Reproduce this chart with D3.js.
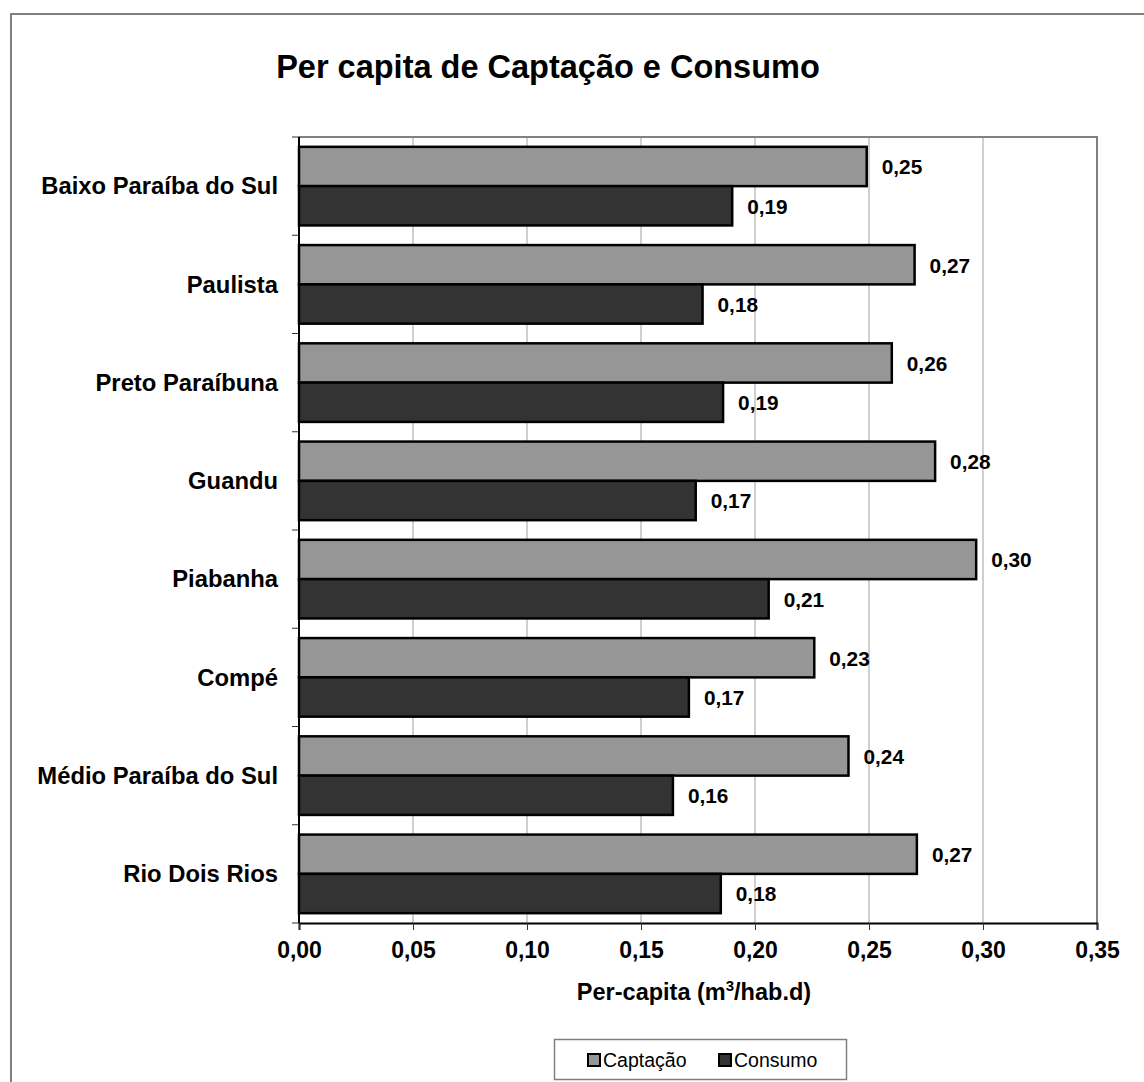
<!DOCTYPE html>
<html lang="pt">
    <head>
        <meta charset="utf-8">
        <title> Per capita de Captação e Consumo </title>
        <script src="https://d3js.org/d3.v7.min.js"></script>
        <style type="text/css">
            body { margin: 0; background: #fff; overflow: hidden; }
            svg { display: block; }
            text { font-family: "Liberation Sans", Arial, sans-serif; }
        </style>
    </head>
    <body>
        <script type="text/javascript">

// size of the picture
var w = 1144;
var h = 1082;

var margin = {top: 137, right: 47, bottom: 159, left: 299};
var innerWidth = w - margin.left - margin.right;
var innerHeight = h - margin.top - margin.bottom;

// data
var regions = ["Baixo Paraíba do Sul", "Paulista", "Preto Paraíbuna", "Guandu",
               "Piabanha", "Compé", "Médio Paraíba do Sul", "Rio Dois Rios"];
var captacao = [0.249, 0.270, 0.260, 0.279, 0.297, 0.226, 0.241, 0.271];
var consumo  = [0.190, 0.177, 0.186, 0.174, 0.206, 0.171, 0.164, 0.185];
var xTicks = [0, 0.05, 0.10, 0.15, 0.20, 0.25, 0.30, 0.35];
var seriesNames = ["Captação", "Consumo"];
var seriesColors = ["#969696", "#333333"];

var fmt = function(v, n){ return v.toFixed(n).replace(".", ","); };

// scales
var xScale = d3.scaleLinear()
               .domain([0, 0.35])
               .range([0, innerWidth]);

var yScale = d3.scaleBand()
               .domain(regions)
               .range([0, innerHeight])
               .paddingInner(0.2)
               .paddingOuter(0.1);

var subScale = d3.scaleBand()
                 .domain(seriesNames)
                 .range([0, yScale.bandwidth()]);

var svg = d3.select("body")
            .append("svg")
            .attr("width", w)
            .attr("height", h);

// outer frame: only left and top edges are visible in the picture
svg.append("path")
   .attr("d", `M11,${h}V14H${w}`)
   .attr("fill", "none")
   .attr("stroke", "#808080")
   .attr("stroke-width", 2);

// title
svg.append("text")
   .attr("x", 548)
   .attr("y", 78)
   .attr("text-anchor", "middle")
   .attr("font-size", "32.5px")
   .attr("font-weight", "bold")
   .text("Per capita de Captação e Consumo");

var g = svg.append("g")
           .attr("transform", `translate(${margin.left},${margin.top})`);

// vertical grid lines
g.selectAll(".grid")
 .data(xTicks.slice(1))
 .enter()
 .append("line")
 .attr("class", "grid")
 .attr("x1", function(d){ return xScale(d); })
 .attr("x2", function(d){ return xScale(d); })
 .attr("y1", 0)
 .attr("y2", innerHeight)
 .attr("stroke", "#a0a0a0")
 .attr("stroke-width", 1);

// plot area frame top and right
g.append("path")
 .attr("d", `M0,0H${innerWidth}V${innerHeight}`)
 .attr("fill", "none")
 .attr("stroke", "#808080")
 .attr("stroke-width", 2);

// x axis
var xAxis = d3.axisBottom(xScale)
              .tickValues(xTicks)
              .tickSize(7)
              .tickFormat(function(d){ return fmt(d, 2); });

var gx = g.append("g")
          .attr("transform", `translate(0,${innerHeight})`)
          .call(xAxis);
gx.select(".domain").attr("stroke", "#000").attr("stroke-width", 2);
gx.selectAll(".tick line").attr("stroke", "#333");
gx.selectAll(".tick text")
  .attr("y", 19)
  .attr("font-size", "23px")
  .attr("font-weight", "bold")
  .attr("fill", "#000");

// y axis, ticks sit between the categories
g.selectAll(".ytick")
 .data(d3.range(regions.length + 1))
 .enter()
 .append("line")
 .attr("class", "ytick")
 .attr("x1", -7).attr("x2", 0)
 .attr("y1", function(i){ return i * yScale.step(); })
 .attr("y2", function(i){ return i * yScale.step(); })
 .attr("stroke", "#333");

g.selectAll(".ylabel")
 .data(regions)
 .enter()
 .append("text")
 .attr("class", "ylabel")
 .attr("x", -21)
 .attr("y", function(d){ return yScale(d) + yScale.bandwidth() / 2; })
 .attr("dy", "0.35em")
 .attr("text-anchor", "end")
 .attr("font-size", "23.8px")
 .attr("font-weight", "bold")
 .text(function(d){ return d; });

// bars
var rows = regions.map(function(r, i){
    return [{region: r, name: seriesNames[0], value: captacao[i]},
            {region: r, name: seriesNames[1], value: consumo[i]}];
});

var groups = g.selectAll(".grp")
              .data(rows)
              .enter()
              .append("g")
              .attr("class", "grp")
              .attr("transform", function(d){ return `translate(0,${yScale(d[0].region)})`; });

groups.selectAll("rect")
      .data(function(d){ return d; })
      .enter()
      .append("rect")
      .attr("x", 0)
      .attr("y", function(d){ return subScale(d.name); })
      .attr("width", function(d){ return xScale(d.value); })
      .attr("height", subScale.bandwidth())
      .attr("fill", function(d, i){ return seriesColors[i]; })
      .attr("stroke", "#000")
      .attr("stroke-width", 2.5);

groups.selectAll(".val")
      .data(function(d){ return d; })
      .enter()
      .append("text")
      .attr("class", "val")
      .attr("x", function(d){ return xScale(d.value) + 15; })
      .attr("y", function(d){ return subScale(d.name) + subScale.bandwidth() / 2; })
      .attr("dy", "0.38em")
      .attr("font-size", "20.8px")
      .attr("font-weight", "bold")
      .text(function(d){ return fmt(d.value, 2); });

// left axis line on top of bars
g.append("line")
 .attr("x1", 0).attr("x2", 0)
 .attr("y1", 0).attr("y2", innerHeight)
 .attr("stroke", "#000")
 .attr("stroke-width", 2);

// x axis title
var xt = svg.append("text")
            .attr("x", 694)
            .attr("y", 1000)
            .attr("text-anchor", "middle")
            .attr("font-size", "23.5px")
            .attr("font-weight", "bold");
xt.append("tspan").text("Per-capita (m");
xt.append("tspan").attr("font-size", "15px").attr("dy", "-9").text("3");
xt.append("tspan").attr("dy", "9").text("/hab.d)");

// legend
var legend = svg.append("g");
legend.append("rect")
      .attr("x", 554.5).attr("y", 1039.5)
      .attr("width", 292).attr("height", 40)
      .attr("fill", "#fff")
      .attr("stroke", "#808080")
      .attr("stroke-width", 1.5);

var legendX = [588, 719];
seriesNames.forEach(function(name, i){
    legend.append("rect")
          .attr("x", legendX[i]).attr("y", 1054)
          .attr("width", 12).attr("height", 12)
          .attr("fill", seriesColors[i])
          .attr("stroke", "#000")
          .attr("stroke-width", 2);
    legend.append("text")
          .attr("x", legendX[i] + 15)
          .attr("y", 1067)
          .attr("font-size", "19.5px")
          .text(name);
});

        </script>
    </body>
</html>
